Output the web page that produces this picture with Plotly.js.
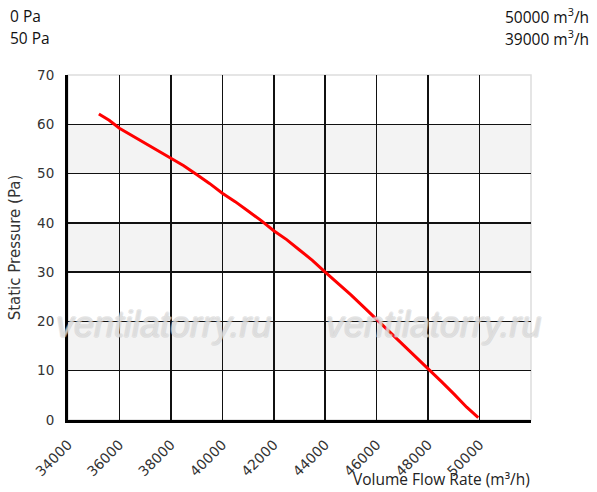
<!DOCTYPE html>
<html><head><meta charset="utf-8">
<script src="https://cdn.plot.ly/plotly-3.0.1.min.js"></script>
<style>html,body{margin:0;padding:0;background:#fff}#chart{width:597px;height:492px}</style>
</head><body><div id="chart"></div>
<script>
var flow = [35200, 35600, 36000, 36500, 37000, 37500, 38000, 38500, 39000, 39500, 40000, 40500, 41000, 41500, 42000, 42500, 43000, 43500, 44000, 44500, 45000, 45500, 46000, 46500, 47000, 47500, 48000, 48500, 49000, 49500, 49950];
var pressure = [62.1, 60.8, 59.2, 57.7, 56.2, 54.6, 53.1, 51.6, 49.8, 48.0, 46.0, 44.3, 42.4, 40.5, 38.4, 36.6, 34.5, 32.4, 30.0, 27.8, 25.4, 22.9, 20.4, 18.0, 15.6, 13.1, 10.5, 7.9, 5.3, 2.6, 0.5];
var xTicks = [34000, 36000, 38000, 40000, 42000, 44000, 46000, 48000, 50000];
var yTicks = [0, 10, 20, 30, 40, 50, 60, 70];
var bands = [[10, 20], [30, 40], [50, 60]];
var headerLeft = ["0 Pa", "50 Pa"];
var headerRight = ["50000 m<sup>3</sup>/h", "39000 m<sup>3</sup>/h"];
var watermark = "ventilatorry.ru";

var shapes = bands.map(function (b) {
  return {type: 'rect', xref: 'paper', yref: 'y', x0: 0, x1: 1, y0: b[0], y1: b[1],
    fillcolor: '#f3f3f3', line: {width: 0}, layer: 'below'};
});
shapes.push({type: 'rect', xref: 'paper', yref: 'paper', x0: 0, x1: 1, y0: 0, y1: 1,
  line: {color: '#dddddd', width: 1.5}, fillcolor: 'rgba(0,0,0,0)', layer: 'below'});

var hdrFont = {family: 'Open Sans, Liberation Sans, sans-serif', size: 15.5, color: '#111'};
var annotations = [];
headerLeft.forEach(function (t, i) {
  annotations.push({text: t, xref: 'paper', yref: 'paper', x: -0.1296, y: 1.171 - i * 0.065,
    xanchor: 'left', yanchor: 'middle', showarrow: false, font: hdrFont});
});
headerRight.forEach(function (t, i) {
  annotations.push({text: t, xref: 'paper', yref: 'paper', x: 1.129, y: 1.171 - i * 0.065,
    xanchor: 'right', yanchor: 'middle', showarrow: false, font: hdrFont});
});
[37700, 48200].forEach(function (xw) {
  annotations.push({text: '<i>' + watermark + '</i>', xref: 'x', yref: 'y', x: xw, y: 19.3,
    xanchor: 'center', yanchor: 'middle', showarrow: false,
    font: {family: 'Liberation Sans, Arial, sans-serif', size: 36, color: 'rgba(255,255,255,0.35)',
      shadow: '1px 0 0 #c2c2c2, -1px 0 0 #c2c2c2, 0 1px 0 #c2c2c2, 0 -1px 0 #c2c2c2'}});
});
annotations.push({text: 'Volume Flow Rate (m³/h)', xref: 'paper', yref: 'paper', x: 1.003, y: -0.172,
  xanchor: 'right', yanchor: 'middle', showarrow: false,
  font: {family: 'Open Sans, Liberation Sans, sans-serif', size: 15.5, color: '#222'}});

var trace = {x: flow, y: pressure, type: 'scatter', mode: 'lines',
  line: {color: '#ff0000', width: 3}, hoverinfo: 'skip'};

var yTickFont = {family: 'DejaVu Sans, sans-serif', size: 13.5, color: '#333'};
var xTickFont = {family: 'DejaVu Sans, sans-serif', size: 14, color: '#333'};
var layout = {
  width: 597, height: 492,
  margin: {l: 68, r: 66, t: 75, b: 72, pad: 0},
  paper_bgcolor: '#fff', plot_bgcolor: '#fff',
  showlegend: false,
  xaxis: {range: [34000, 52000], tickvals: xTicks, ticktext: xTicks.map(String),
    tickangle: -45, tickfont: xTickFont, showgrid: true, gridcolor: '#111', gridwidth: 1.5,
    zeroline: false, showline: true, linecolor: '#000', linewidth: 3,
    ticks: 'outside', ticklen: 8, tickcolor: 'rgba(0,0,0,0)', fixedrange: true},
  yaxis: {range: [0, 70], tickvals: yTicks, tickfont: yTickFont, showgrid: true,
    gridcolor: '#111', gridwidth: 1.5, zeroline: false, showline: true, linecolor: '#000',
    linewidth: 3, ticks: 'outside', ticklen: 8, tickcolor: 'rgba(0,0,0,0)',
    title: {text: 'Static Pressure (Pa)', font: {family: 'DejaVu Sans, sans-serif', size: 15, color: '#333'}, standoff: 13},
    fixedrange: true},
  shapes: shapes,
  annotations: annotations
};
Plotly.newPlot('chart', [trace], layout, {staticPlot: true, displayModeBar: false});
</script></body></html>
